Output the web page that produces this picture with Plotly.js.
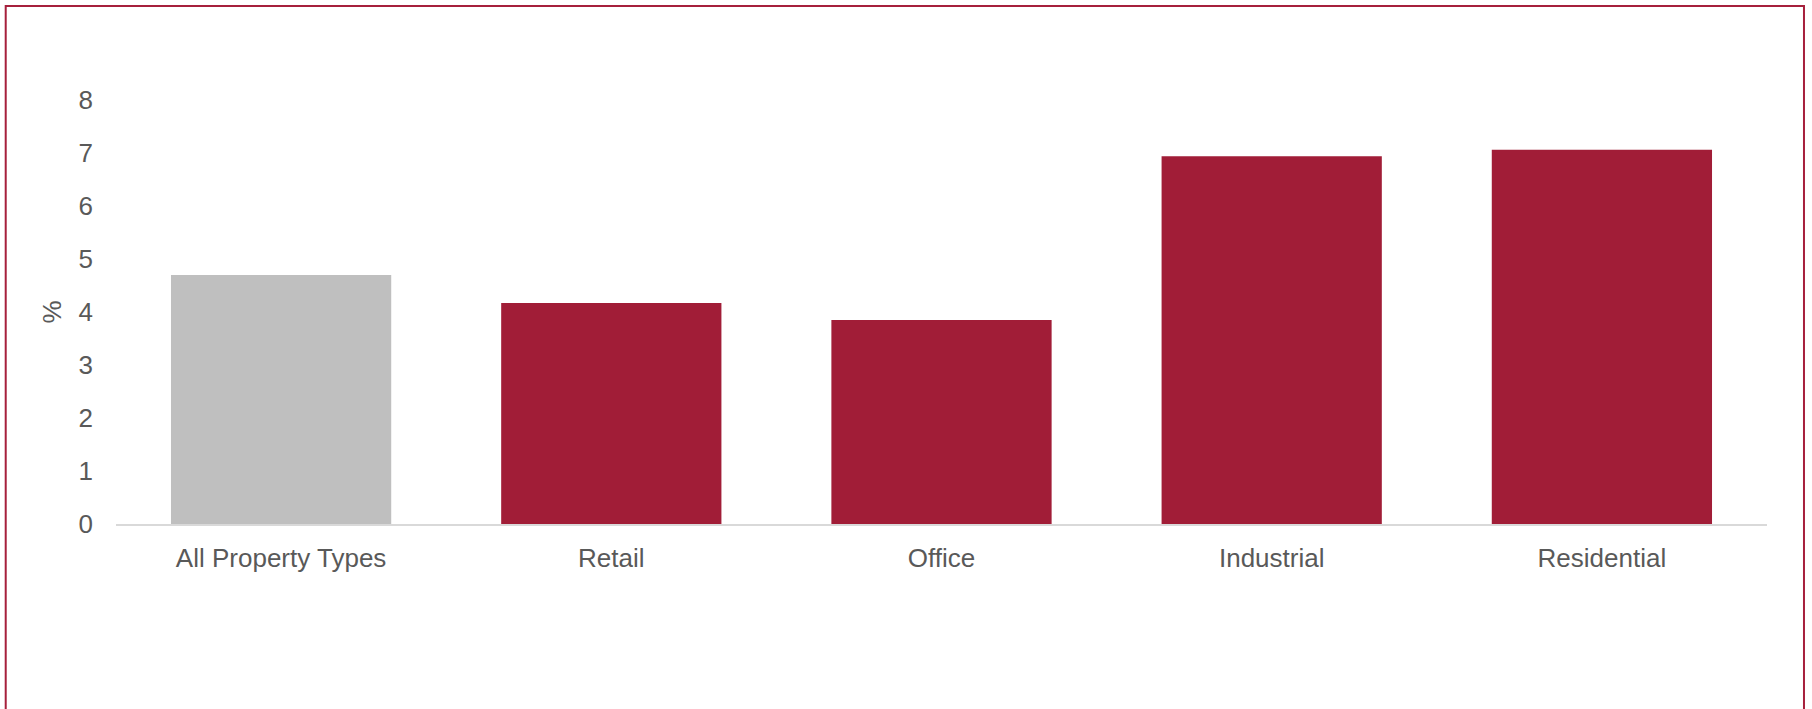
<!DOCTYPE html>
<html>
<head>
<meta charset="utf-8">
<script src="https://cdn.plot.ly/plotly-3.0.1.min.js"></script>
<style>
  html, body { margin: 0; padding: 0; background: #fff; }
  #chart { width: 1812px; height: 709px; }
</style>
</head>
<body>
<div id="chart"></div>
<script>
const categories = ["All Property Types", "Retail", "Office", "Industrial", "Residential"];
const values = [4.7, 4.17, 3.85, 6.94, 7.06];
const barColors = ["#BFBFBF", "#A11D37", "#A11D37", "#A11D37", "#A11D37"];
const yTickVals = [0, 1, 2, 3, 4, 5, 6, 7, 8];

const trace = {
  type: "bar",
  x: categories,
  y: values,
  marker: { color: barColors, line: { width: 0 } },
  hoverinfo: "x+y"
};

const layout = {
  width: 1812,
  height: 709,
  margin: { l: 116, r: 45, t: 100, b: 185 },
  paper_bgcolor: "#ffffff",
  plot_bgcolor: "#ffffff",
  bargap: 0.333,
  showlegend: false,
  font: { family: "Liberation Sans, Arial, sans-serif", color: "#595959", size: 26 },
  xaxis: {
    type: "category",
    showgrid: false,
    zeroline: false,
    showline: true,
    linecolor: "#D9D9D9",
    linewidth: 2,
    ticks: "",
    ticklabelstandoff: 10,
    tickfont: { size: 26, color: "#595959" }
  },
  yaxis: {
    range: [0, 8],
    tickvals: yTickVals,
    ticktext: yTickVals.map(String),
    showgrid: false,
    zeroline: false,
    showline: false,
    ticks: "",
    ticklabelstandoff: 22,
    tickfont: { size: 26, color: "#595959" },
    title: { text: "%", font: { size: 26, color: "#595959" }, standoff: 9 }
  },
  shapes: [{
    type: "rect",
    xref: "paper", yref: "paper",
    x0: -0.0668, x1: 1.0224,
    y0: -0.47, y1: 1.2215,
    line: { color: "#A6203C", width: 2 },
    fillcolor: "rgba(0,0,0,0)",
    layer: "above"
  }]
};

Plotly.newPlot("chart", [trace], layout, { displayModeBar: false, staticPlot: true });
</script>
</body>
</html>
